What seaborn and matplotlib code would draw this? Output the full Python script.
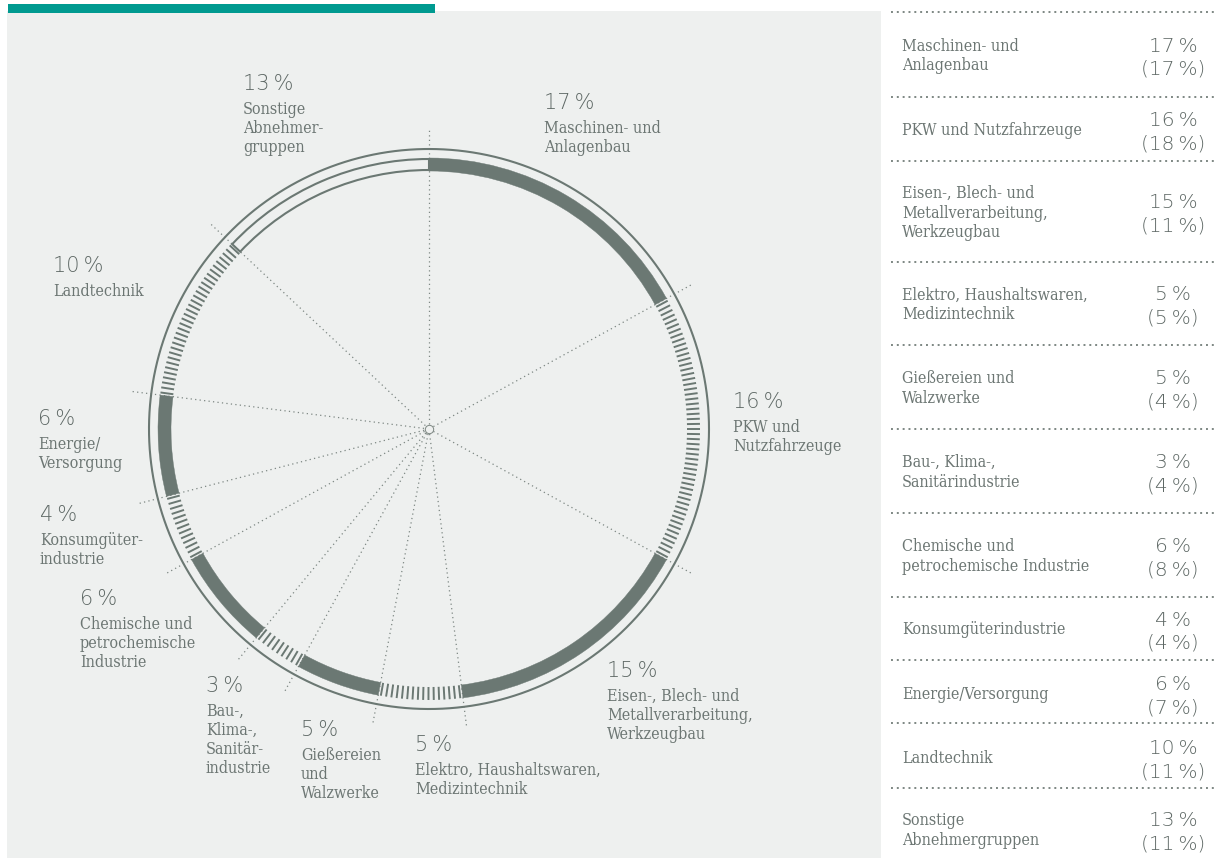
import numpy as np
import matplotlib
matplotlib.use("Agg")
import matplotlib.pyplot as plt
import seaborn as sns
from matplotlib.patches import Rectangle

# ---------------- data ----------------
categories = ["Maschinen- und Anlagenbau", "PKW und Nutzfahrzeuge",
              "Eisen-, Blech- und Metallverarbeitung, Werkzeugbau",
              "Elektro, Haushaltswaren, Medizintechnik", "Gießereien und Walzwerke",
              "Bau-, Klima-, Sanitärindustrie", "Chemische und petrochemische Industrie",
              "Konsumgüterindustrie", "Energie/Versorgung", "Landtechnik",
              "Sonstige Abnehmergruppen"]
share_current = [17, 16, 15, 5, 5, 3, 6, 4, 6, 10, 13]
share_previous = [17, 18, 11, 5, 4, 4, 8, 4, 7, 11, 11]
segment_style = ["solid", "hatch", "solid", "hatch", "solid", "hatch",
                 "solid", "hatch", "solid", "hatch", "outline"]
chart_labels = [["Maschinen- und", "Anlagenbau"],
                ["PKW und", "Nutzfahrzeuge"],
                ["Eisen-, Blech- und", "Metallverarbeitung,", "Werkzeugbau"],
                ["Elektro, Haushaltswaren,", "Medizintechnik"],
                ["Gießereien", "und", "Walzwerke"],
                ["Bau-,", "Klima-,", "Sanitär-", "industrie"],
                ["Chemische und", "petrochemische", "Industrie"],
                ["Konsumgüter-", "industrie"],
                ["Energie/", "Versorgung"],
                ["Landtechnik"],
                ["Sonstige", "Abnehmer-", "gruppen"]]
table_labels = [["Maschinen- und", "Anlagenbau"],
                ["PKW und Nutzfahrzeuge"],
                ["Eisen-, Blech- und", "Metallverarbeitung,", "Werkzeugbau"],
                ["Elektro, Haushaltswaren,", "Medizintechnik"],
                ["Gießereien und", "Walzwerke"],
                ["Bau-, Klima-,", "Sanitärindustrie"],
                ["Chemische und", "petrochemische Industrie"],
                ["Konsumgüterindustrie"],
                ["Energie/Versorgung"],
                ["Landtechnik"],
                ["Sonstige", "Abnehmergruppen"]]

# ---------------- layout / style ----------------
W, H = 1219, 868
CX, CY = 429, 429
RMAX = 320
RING = "#6b7873"
TXT = "#6c7673"
PCT = "#5e6865"
PANEL = "#eef0ef"
TEAL = "#009a90"

label_pos = [(544, 109), (733, 408), (607, 677), (415, 751), (301, 736),
             (206, 692), (80, 605), (40, 521), (38, 425), (53, 272), (243, 90)]
row_sep = [12, 97, 161, 262, 345, 429, 513, 597, 660, 723, 788]
row_center = [54.5, 129, 211.5, 303.5, 387, 471, 555, 628.5, 693, 757, 829]

sns.set_theme(style="white")
plt.rcParams["font.family"] = ["DejaVu Serif", "DejaVu Sans"]

serif = dict(family=["DejaVu Serif", "DejaVu Sans"], fontstretch="condensed",
             fontsize=11.5, color=TXT)
pctfont = dict(family=["DejaVu Sans"], fontweight="ultralight", color=PCT)
TS = "\u2009"

fig = plt.figure(figsize=(W / 100, H / 100), dpi=100)
fig.patch.set_facecolor("white")
bg = fig.add_axes([0, 0, 1, 1])
bg.set_xlim(0, W)
bg.set_ylim(H, 0)
bg.axis("off")
bg.add_patch(Rectangle((7, 11), 874, 847, color=PANEL, lw=0, zorder=0))
bg.add_patch(Rectangle((8, 4), 427, 9, color=TEAL, lw=0, zorder=1))

# ---------------- ring chart (polar) ----------------
ax = fig.add_axes([(CX - RMAX) / W, (H - CY - RMAX) / H, 2 * RMAX / W, 2 * RMAX / H],
                  projection="polar")
ax.set_theta_zero_location("N")
ax.set_theta_direction(-1)
ax.set_ylim(0, RMAX)
ax.axis("off")
ax.patch.set_alpha(0)

shares = np.array(share_current, dtype=float)
bounds = np.concatenate([[0], np.cumsum(shares)]) / shares.sum() * 2 * np.pi
r_in, r_out = 258, 271

for i, style in enumerate(segment_style):
    t0, t1 = bounds[i], bounds[i + 1]
    if style == "solid":
        ax.bar(t0, r_out - r_in, width=t1 - t0, bottom=r_in, align="edge",
               color=RING, edgecolor=RING, lw=0.3, zorder=3)
    elif style == "outline":
        ax.bar(t0, r_out - r_in - 2, width=t1 - t0, bottom=r_in + 1, align="edge",
               fill=False, edgecolor=RING, lw=1.5, zorder=3)
    else:
        arc = (t1 - t0) * (r_in + r_out) / 2
        n = int(arc / 5.0)
        th = t0 + (np.arange(n) + 0.5) * (t1 - t0) / n
        ax.vlines(th, r_in, r_out, colors=RING, lw=1.4, zorder=3)

theta = np.linspace(0, 2 * np.pi, 720)
ax.plot(theta, np.full_like(theta, 280), color=RING, lw=1.5, zorder=3)

ax.vlines(bounds[:-1], 5, 300, colors="#7d8783", lw=0.9,
          linestyles=[(0, (1, 2.6))], zorder=2)
ax.plot([0], [0], marker="o", ms=6, mfc="none", mec="#7d8783", mew=0.7, zorder=2)

# ---------------- chart labels ----------------
for (x, yb), val, lines in zip(label_pos, share_current, chart_labels):
    bg.text(x, yb, f"{val}{TS}%", fontsize=15, va="baseline", ha="left", **pctfont)
    for k, line in enumerate(lines):
        bg.text(x, yb + 24 + 19 * k, line, va="baseline", ha="left", **serif)

# ---------------- table ----------------
for y in row_sep:
    bg.plot([891, 1215], [y, y], color="#7d8783", lw=1.4,
            linestyle=(0, (1, 2)), solid_capstyle="butt")

for yc, lines, cur, prev in zip(row_center, table_labels, share_current, share_previous):
    n = len(lines)
    for k, line in enumerate(lines):
        bg.text(902, yc + 6 + (k - (n - 1) / 2) * 19.5, line,
                va="baseline", ha="left", **serif)
    bg.text(1173, yc - 3, f"{cur}{TS}%", fontsize=14.5, va="baseline", ha="center", **pctfont)
    bg.text(1173, yc + 20, f"({prev}{TS}%)", fontsize=14.5, va="baseline", ha="center", **pctfont)

fig.savefig("out.png", dpi=100, facecolor="white")
